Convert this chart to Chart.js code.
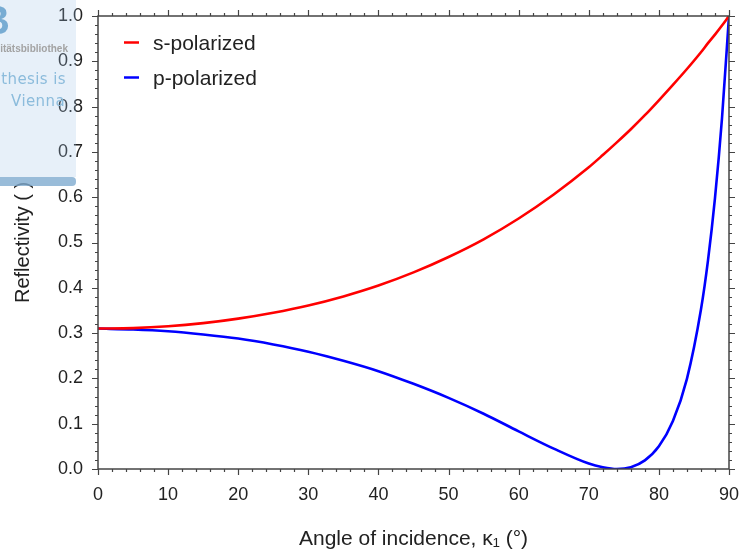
<!DOCTYPE html>
<html>
<head>
<meta charset="utf-8">
<script src="https://cdn.jsdelivr.net/npm/chart.js@4/dist/chart.umd.min.js"></script>
<style>
html,body{margin:0;padding:0;background:#fff;}
#wrap{position:relative;width:739px;height:554px;overflow:hidden;}
canvas{display:block;}
.wm{position:absolute;pointer-events:none;white-space:nowrap;}
</style>
</head>
<body>
<div id="wrap">
<canvas id="c" width="739" height="554"></canvas>
<div class="wm" style="left:0;top:0;width:76px;height:177px;background:rgba(160,195,230,0.25);"></div>
<div class="wm" style="left:0;top:177px;width:76px;height:9px;background:rgba(128,171,207,0.8);border-radius:0 4px 4px 0;"></div>
<div class="wm" style="left:-19px;top:0px;font:bold 40px 'Liberation Sans',Arial,sans-serif;line-height:1;color:rgba(100,160,205,0.85);">B</div>
<div class="wm" style="right:671px;top:43px;font:bold 10px 'Liberation Sans',Arial,sans-serif;color:#a3a3a3;">itätsbibliothek</div>
<div class="wm" style="right:673px;top:70px;font:15px 'DejaVu Sans',sans-serif;letter-spacing:0.4px;color:#8cbcdc;">thesis is</div>
<div class="wm" style="right:674px;top:92px;font:15px 'DejaVu Sans',sans-serif;letter-spacing:0.4px;color:#8cbcdc;">Vienna</div>
</div>
<script>
// ---- data ----
const angles = [0,5,10,15,20,25,30,35,40,45,50,55,60,65,70,72,74,76,78,80,82,84,86,87,88,89,90];
const sPolarized = [0.310,0.311,0.315,0.322,0.332,0.345,0.361,0.381,0.405,0.434,0.468,0.507,0.553,0.606,0.666,0.693,0.721,0.750,0.781,0.814,0.848,0.883,0.920,0.940,0.959,0.979,1.000];
const pPolarized = [0.310,0.308,0.304,0.297,0.288,0.275,0.259,0.239,0.216,0.188,0.157,0.122,0.083,0.045,0.012,0.004,0.000,0.004,0.019,0.050,0.106,0.199,0.352,0.460,0.598,0.774,1.000];
const seriesLabels = ['s-polarized','p-polarized'];
const xTickLabels = ['0','10','20','30','40','50','60','70','80','90'];
const yTickLabels = ['0.0','0.1','0.2','0.3','0.4','0.5','0.6','0.7','0.8','0.9','1.0'];
const xTitle = 'Angle of incidence, \u03BA\u2081 (\u00B0)';
const yTitle = 'Reflectivity ( )';

const FONT = "'Liberation Sans', Arial, sans-serif";
const AXIS_COLOR = '#444';

const framePlugin = {
  id: 'frameTicks',
  afterDraw(chart) {
    const ctx = chart.ctx, a = chart.chartArea;
    const xs = chart.scales.x, ys = chart.scales.y;
    ctx.save();
    ctx.strokeStyle = AXIS_COLOR;
    ctx.lineWidth = 1.5;
    ctx.strokeRect(a.left, a.top, a.right - a.left, a.bottom - a.top);
    ctx.lineWidth = 1.2;
    ctx.beginPath();
    for (let v = xs.min; v <= xs.max + 1e-9; v += 2) {
      const px = Math.round(xs.getPixelForValue(v)) + 0.5;
      const len = (Math.abs(v % 10) < 1e-9) ? 6 : 3;
      ctx.moveTo(px, a.bottom); ctx.lineTo(px, a.bottom + len);
      ctx.moveTo(px, a.top); ctx.lineTo(px, a.top - len);
    }
    for (let i = 0; i <= 50; i++) {
      const v = i * 0.02;
      const py = Math.round(ys.getPixelForValue(v)) + 0.5;
      const len = (i % 5 === 0) ? 6 : 3;
      ctx.moveTo(a.left, py); ctx.lineTo(a.left - len, py);
      ctx.moveTo(a.right, py); ctx.lineTo(a.right + len, py);
    }
    ctx.stroke();
    ctx.font = '21px ' + FONT;
    ctx.textBaseline = 'alphabetic';
    ctx.textAlign = 'left';
    chart.data.datasets.forEach((ds, i) => {
      const y = a.top + 26.5 + i * 35;
      ctx.strokeStyle = ds.borderColor;
      ctx.lineWidth = 2.5;
      ctx.beginPath();
      ctx.moveTo(a.left + 26, y); ctx.lineTo(a.left + 41, y);
      ctx.stroke();
      ctx.fillStyle = '#222';
      ctx.fillText(ds.label, a.left + 55, y + 7);
    });
    ctx.restore();
  }
};

new Chart(document.getElementById('c'), {
  type: 'line',
  data: {
    datasets: [
      { label: seriesLabels[0], data: angles.map((x, i) => ({x, y: sPolarized[i]})),
        borderColor: '#ff0000', borderWidth: 2.6, pointRadius: 0, fill: false,
        cubicInterpolationMode: 'monotone' },
      { label: seriesLabels[1], data: angles.map((x, i) => ({x, y: pPolarized[i]})),
        borderColor: '#0000ff', borderWidth: 2.6, pointRadius: 0, fill: false,
        cubicInterpolationMode: 'monotone' }
    ]
  },
  options: {
    responsive: false,
    animation: false,
    layout: { padding: { top: 16, right: 10, left: 0, bottom: 0 } },
    plugins: { legend: { display: false }, tooltip: { enabled: false } },
    scales: {
      x: {
        type: 'linear', min: 0, max: 90,
        afterBuildTicks: s => { s.ticks = xTickLabels.map(t => ({ value: parseFloat(t) })); },
        afterFit: s => { s.height = 85; s.paddingLeft = 0; s.paddingRight = 0; s.paddingTop = 0; s.paddingBottom = 0; },
        ticks: { font: { size: 18, family: FONT }, color: '#222', padding: 15, maxRotation: 0, autoSkip: false,
                 callback: (v, i) => xTickLabels[i] },
        grid: { display: false, drawTicks: false },
        border: { display: false },
        title: { display: true, text: xTitle, font: { size: 21, family: FONT }, color: '#222',
                 padding: { top: 0, bottom: 2 } }
      },
      y: {
        type: 'linear', min: 0, max: 1,
        afterBuildTicks: s => { s.ticks = yTickLabels.map(t => ({ value: parseFloat(t) })); },
        afterFit: s => { s.width = 98; s.paddingLeft = 0; s.paddingRight = 0; s.paddingTop = 0; s.paddingBottom = 0; },
        ticks: { font: { size: 18, family: FONT }, color: '#222', padding: 15, autoSkip: false,
                 callback: (v, i) => yTickLabels[i] },
        grid: { display: false, drawTicks: false },
        border: { display: false },
        title: { display: true, text: yTitle, font: { size: 20, family: FONT }, color: '#222',
                 padding: { top: 11, bottom: 0 } }
      }
    }
  },
  plugins: [framePlugin]
});
</script>
</body>
</html>
